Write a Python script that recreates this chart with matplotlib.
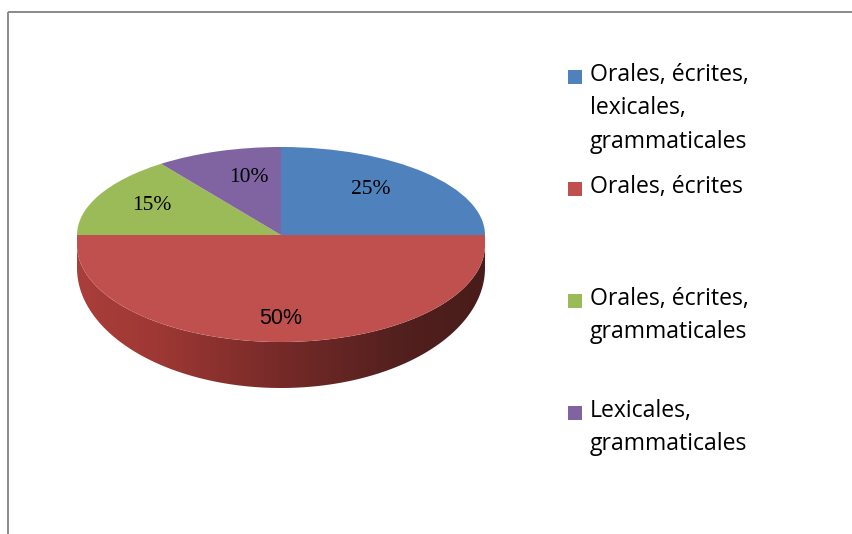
import numpy as np
import matplotlib
matplotlib.use('Agg')
import matplotlib.pyplot as plt
from matplotlib.patches import Rectangle, Polygon

# donnees du graphique
categories = ['Orales, écrites,\nlexicales,\ngrammaticales', 'Orales, écrites',
              'Orales, écrites,\ngrammaticales', 'Lexicales,\ngrammaticales']
valeurs = [25, 50, 15, 10]
couleurs = ['#4F81BD', '#C0504D', '#9BBB59', '#8064A2']

W, H = 852, 534
fig = plt.figure(figsize=(W / 100, H / 100), dpi=100, facecolor='white')


def axes_pixels():
    ax = fig.add_axes([0, 0, 1, 1])
    ax.set_xlim(0, W)
    ax.set_ylim(H, 0)
    ax.axis('off')
    return ax


def axes_camembert(cx, cy, rx, ry):
    ax = fig.add_axes([(cx - rx) / W, (H - cy - ry) / H, 2 * rx / W, 2 * ry / H])
    wedges, _ = ax.pie(valeurs, colors=couleurs, startangle=90, counterclock=False, radius=1)
    ax.set_aspect('auto')
    ax.set_xlim(-1, 1)
    ax.set_ylim(-1, 1)
    ax.axis('off')
    return ax, wedges


fond = axes_pixels()

# cadre gris (haut et gauche seulement)
fond.plot([8, 8], [534, 12], color='#8a8a8a', lw=1.4, solid_capstyle='butt')
fond.plot([8, 852], [12, 12], color='#8a8a8a', lw=1.4, solid_capstyle='butt')

# epaisseur du camembert : degrade clippe sur la bande du bas
cx, cy, rx = 281, 235, 204
cy_bas, ry_bas = 245, 97
t = np.linspace(np.pi, 0, 200)
haut = np.column_stack([cx + rx * np.cos(t), cy_bas + ry_bas * np.sin(t)])
bas = np.column_stack([cx + rx * np.cos(t), 268 + 120 * np.sin(t)])
bande = np.vstack([[[77, cy]], bas, [[485, cy]], haut[::-1]])
stops_x = [0.0, 0.2, 0.5, 0.8, 1.0]
stops_r = [170, 158, 118, 82, 72]
stops_g = [62, 56, 42, 32, 28]
stops_b = [58, 52, 40, 30, 26]
x = np.linspace(0, 1, 300)
grad = np.dstack([np.interp(x, stops_x, stops_r), np.interp(x, stops_x, stops_g),
                  np.interp(x, stops_x, stops_b)]).astype(np.uint8)
im = fond.imshow(grad, extent=[77, 485, 392, 235], aspect='auto', zorder=2)
im.set_clip_path(Polygon(bande, transform=fond.transData))
fond.set_xlim(0, W)
fond.set_ylim(H, 0)

# bord droit entre le dessus et la moitie basse
fond.add_patch(Rectangle((77, cy), 2 * rx, cy_bas - cy + 1, facecolor=couleurs[1],
                         edgecolor='none', zorder=3))

# moitie basse plus grande que la moitie haute (perspective)
ax_bas, wedges_bas = axes_camembert(cx, cy_bas, rx, ry_bas)
clip = Rectangle((-1, -1), 2, 1, transform=ax_bas.transData)
for w in wedges_bas:
    w.set_clip_on(True)
    w.set_clip_path(clip)
axes_camembert(cx, cy, rx, 88)

dessus = axes_pixels()

# etiquettes de pourcentage
pos_labels = [(371, 189), (281, 318), (152, 206), (249, 178)]
polices = ['Liberation Serif', 'Liberation Sans', 'Liberation Serif', 'Liberation Serif']
for v, (px, py), pol in zip(valeurs, pos_labels, polices):
    dessus.text(px, py, f'{v}%', ha='center', va='center', fontsize=15.5,
                family=pol, color='black')

# legende
pos_legende = [77, 189, 301, 413]
for nom, coul, py in zip(categories, couleurs, pos_legende):
    dessus.add_patch(Rectangle((568, py - 7), 14, 14, facecolor=coul, edgecolor='none'))
    dessus.text(590, py - 14, nom, ha='left', va='top', fontsize=16.6, family='Open Sans',
                color='black', linespacing=1.52)

fig.savefig('out.png', dpi=100)
